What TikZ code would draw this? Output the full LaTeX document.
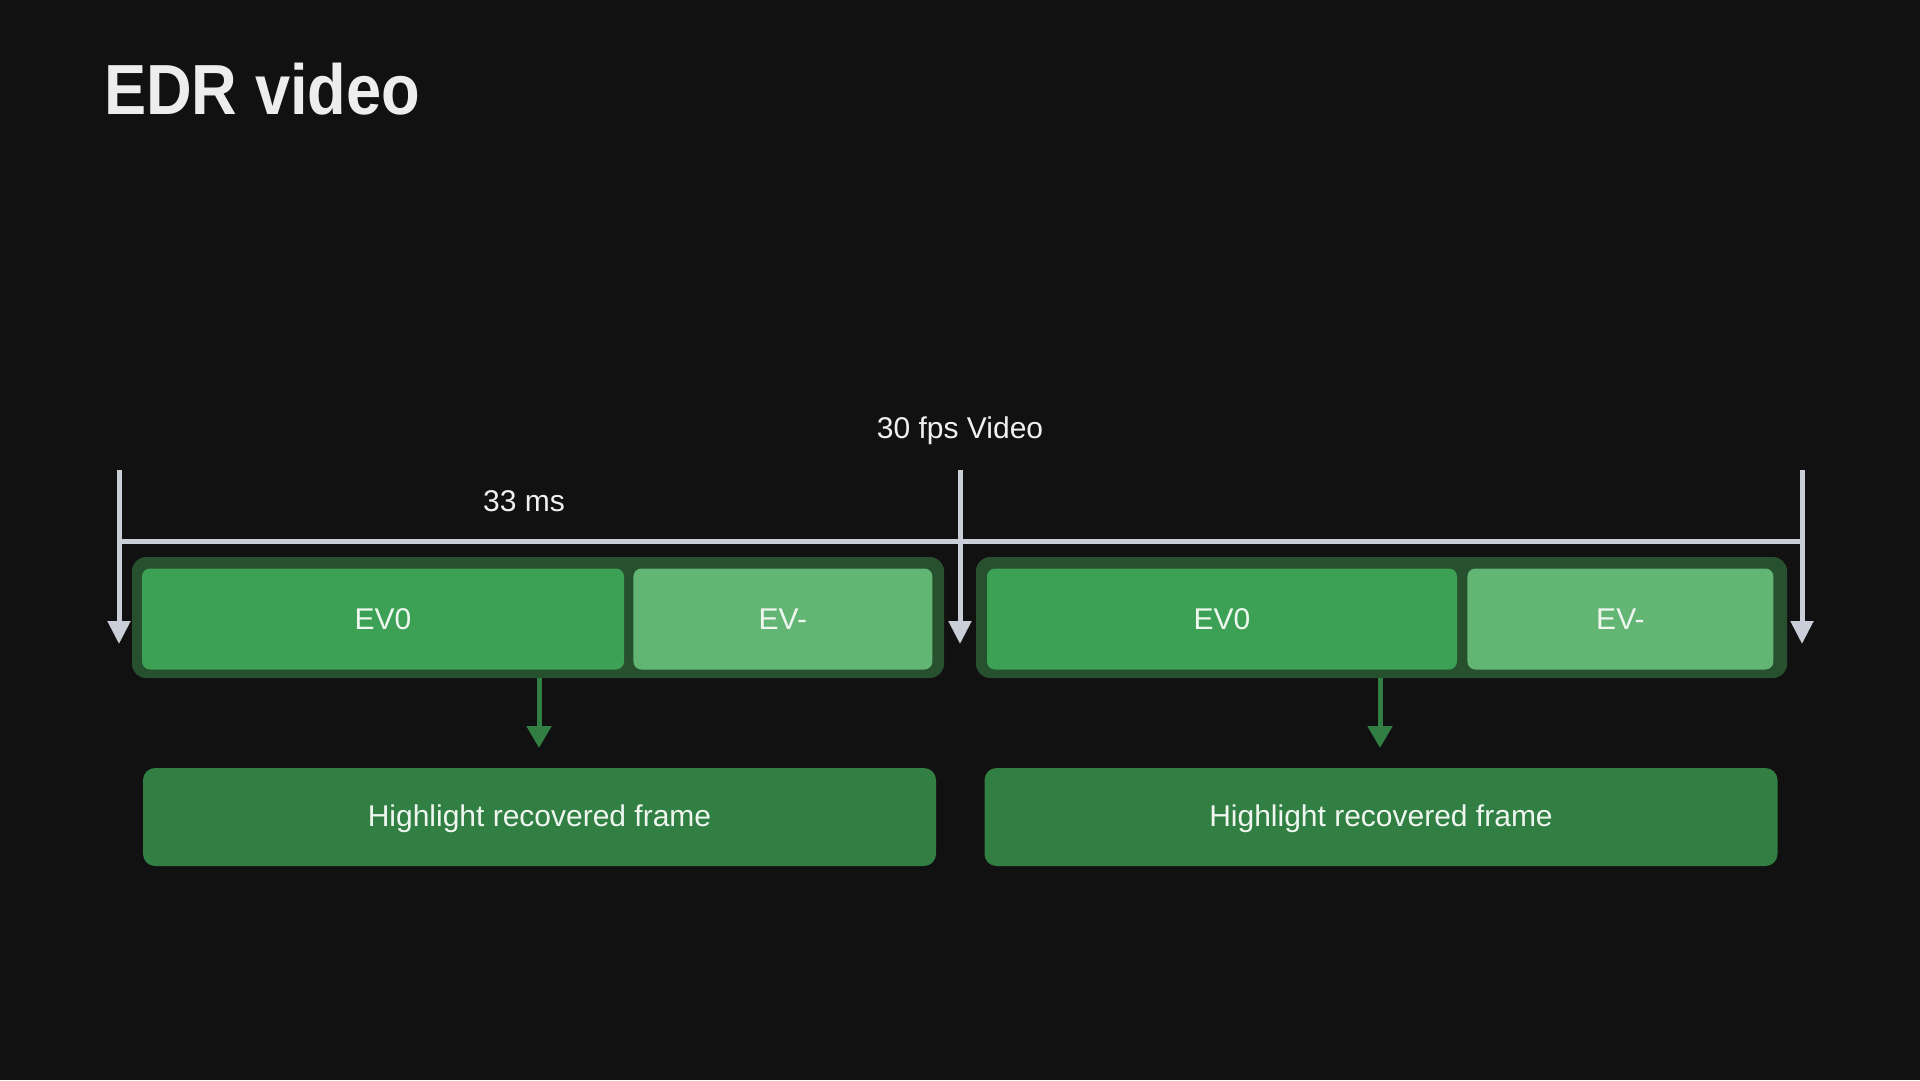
\documentclass[tikz,border=0pt]{standalone}
\usepackage{fontspec}
\setmainfont{Liberation Sans}
\newfontfamily\titlefont[FakeStretch=0.89]{Liberation Sans}
\usetikzlibrary{positioning,arrows.meta}

\definecolor{bgdark}{HTML}{111111}
\definecolor{framegreen}{HTML}{26502E}
\definecolor{evgreen}{HTML}{3DA155}
\definecolor{evlight}{HTML}{63B574}
\definecolor{hlgreen}{HTML}{317F43}
\definecolor{ticklight}{HTML}{C9CED9}
\definecolor{labeltext}{HTML}{EEF6EF}

\begin{document}
\begin{tikzpicture}[
			x=1pt, y=-1pt,
			frame/.style={rectangle, fill=framegreen, rounded corners=14pt, minimum width=812pt, minimum height=121pt},
			evzero/.style={rectangle, fill=evgreen, rounded corners=8pt, minimum height=101pt, text=labeltext, font=\fontsize{30}{36}\selectfont},
			evminus/.style={rectangle, fill=evlight, rounded corners=8pt, minimum height=101pt, text=labeltext, font=\fontsize{30}{36}\selectfont},
			result/.style={rectangle, fill=hlgreen, rounded corners=12pt, minimum width=793pt, minimum height=98pt, text height=26pt, text=labeltext, font=\fontsize{30}{36}\selectfont},
			label/.style={text=white!94!black, font=\fontsize{30}{36}\selectfont},
			tick/.style={draw=ticklight, line width=5pt, -{Triangle[width=22pt,length=23pt]}},
			arrow/.style={draw=hlgreen, line width=5pt, -{Triangle[width=24pt,length=22pt]}}
			]
			
			% Background
			\fill[bgdark] (0,0) rectangle (1920,1080);
			\useasboundingbox (0,0) rectangle (1920,1080);
			
			% Title
			\node[anchor=base west, inner sep=0, text=white!93!black, font=\fontsize{71}{78}\titlefont\bfseries] (title) at (104,114) {EDR video};
			
			% Labels
			\node[label] (fps) at (960,431) {30 fps Video};
			\node[label] (ms) at (524,501) {33 ms};
			
			% Timeline
			\coordinate (l0) at (119,541);
			\coordinate (l1) at (1802,541);
			\coordinate (t0) at (119,470);
			\coordinate (t0end) at (119,644);
			\coordinate (t1) at (960,470);
			\coordinate (t1end) at (960,644);
			\coordinate (t2) at (1802,470);
			\coordinate (t2end) at (1802,644);
			\draw[draw=ticklight, line width=5pt] (l0) -- (l1);
			\draw[tick] (t0) -- (t0end);
			\draw[tick] (t1) -- (t1end);
			\draw[tick] (t2) -- (t2end);
			
			% First frame
			\node[frame] (groupa) at (538,617.5) {};
			\node[evzero, minimum width=482pt] (evzeroa) at (383,619) {EV0};
			\node[evminus, minimum width=299pt, right=9pt of evzeroa] (evminusa) {EV-};
			
			% Second frame
			\node[frame, minimum width=811pt] (groupb) at (1381.5,617.5) {};
			\node[evzero, minimum width=470pt] (evzerob) at (1222,619) {EV0};
			\node[evminus, minimum width=306pt, right=10pt of evzerob] (evminusb) {EV-};
			
			% Outputs
			\node[result] (outa) at (539.5,817) {Highlight recovered frame};
			\node[result] (outb) at (1381,817) {Highlight recovered frame};
			
			% Arrows
			\coordinate (taila) at (539,678);
			\coordinate (heada) at (539,748);
			\coordinate (tailb) at (1380,678);
			\coordinate (headb) at (1380,748);
			\draw[arrow] (taila) -- (heada);
			\draw[arrow] (tailb) -- (headb);
			
		\end{tikzpicture}
\end{document}
